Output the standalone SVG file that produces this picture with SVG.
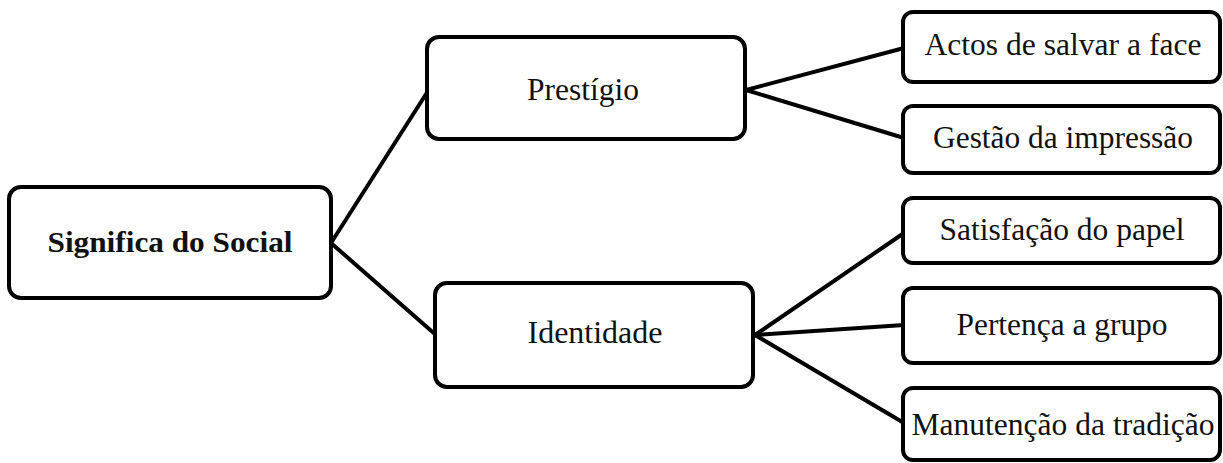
<svg xmlns="http://www.w3.org/2000/svg" width="1223" height="463" viewBox="0 0 1223 463">
<style>
.box{fill:#fff;stroke:#000;stroke-width:4}
.t{fill:#111;text-anchor:middle}
.c{stroke:#000;stroke-width:4;fill:none}
</style>
<rect width="1223" height="463" fill="#fff"/>
<g id="connectors">
<line class="c" x1="331" y1="243" x2="428" y2="91"/>
<line class="c" x1="331" y1="243" x2="436" y2="335"/>
<line class="c" x1="746" y1="90" x2="904" y2="48"/>
<line class="c" x1="746" y1="90" x2="904" y2="138"/>
<line class="c" x1="755" y1="335" x2="904" y2="233"/>
<line class="c" x1="755" y1="335" x2="904" y2="325"/>
<line class="c" x1="755" y1="335" x2="904" y2="423"/>
</g>
<g id="root">
<rect class="box" x="9" y="187" width="322" height="111" rx="12"/>
<text class="t" font-family="Liberation Serif" font-weight="bold" font-size="30" x="170" y="252" textLength="245" lengthAdjust="spacingAndGlyphs">Significa do Social</text>
</g>
<g id="prestigio">
<rect class="box" x="427" y="37" width="318" height="102" rx="12"/>
<text class="t" font-family="Liberation Serif" font-size="32" x="583" y="100" textLength="112" lengthAdjust="spacingAndGlyphs">Prestígio</text>
</g>
<g id="identidade">
<rect class="box" x="435" y="283" width="318" height="104" rx="12"/>
<text class="t" font-family="Liberation Serif" font-size="32" x="595" y="343" textLength="135" lengthAdjust="spacingAndGlyphs">Identidade</text>
</g>
<g id="actos">
<rect class="box" x="903" y="12" width="317" height="70" rx="10"/>
<text class="t" font-family="Liberation Serif" font-size="31" x="1063" y="55" textLength="277" lengthAdjust="spacingAndGlyphs">Actos de salvar a face</text>
</g>
<g id="gestao">
<rect class="box" x="903" y="106" width="317" height="67" rx="10"/>
<text class="t" font-family="Liberation Serif" font-size="31" x="1063" y="148" textLength="260" lengthAdjust="spacingAndGlyphs">Gestão da impressão</text>
</g>
<g id="satisfacao">
<rect class="box" x="903" y="198" width="317" height="65" rx="10"/>
<text class="t" font-family="Liberation Serif" font-size="31" x="1062" y="240" textLength="245" lengthAdjust="spacingAndGlyphs">Satisfação do papel</text>
</g>
<g id="pertenca">
<rect class="box" x="903" y="288" width="317" height="75" rx="10"/>
<text class="t" font-family="Liberation Serif" font-size="31" x="1062" y="335" textLength="211" lengthAdjust="spacingAndGlyphs">Pertença a grupo</text>
</g>
<g id="manutencao">
<rect class="box" x="903" y="388" width="317" height="72" rx="10"/>
<text class="t" font-family="Liberation Serif" font-size="31" x="1063" y="435" textLength="303" lengthAdjust="spacingAndGlyphs">Manutenção da tradição</text>
</g>
</svg>
